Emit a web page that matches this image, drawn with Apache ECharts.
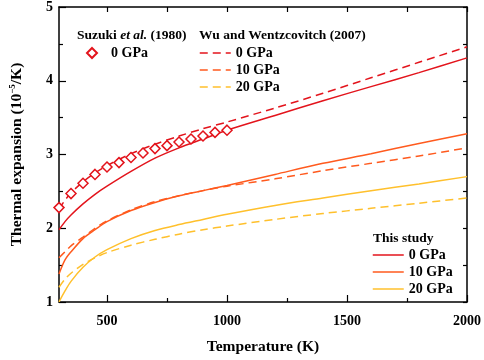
<!DOCTYPE html>
<html>
<head>
<meta charset="utf-8">
<title>Thermal expansion</title>
<script src="https://cdn.jsdelivr.net/npm/echarts@6/dist/echarts.min.js"></script>
<style>
  html, body { margin: 0; padding: 0; background: #fff; }
  #typeCharts { width: 484px; height: 360px; }
</style>
</head>
<body>
<!-- container for the chart -->
<div id="typeCharts"></div>
<script>
// temperature grid of the curves (K)
var temps = [300, 325, 350, 400, 450, 500, 600, 700, 800, 900, 1000, 1200, 1400, 1600, 1800, 2000]

// this study (solid)
var study0 = [1.98, 2.09, 2.18, 2.33, 2.46, 2.57, 2.77, 2.95, 3.09, 3.21, 3.33, 3.53, 3.73, 3.92, 4.11, 4.31]
var study10 = [1.38, 1.57, 1.68, 1.86, 1.98, 2.09, 2.24, 2.35, 2.44, 2.51, 2.58, 2.73, 2.88, 3.01, 3.15, 3.28]
var study20 = [1.0, 1.15, 1.28, 1.47, 1.61, 1.71, 1.86, 1.97, 2.05, 2.12, 2.19, 2.31, 2.41, 2.51, 2.6, 2.7]

// Wu and Wentzcovitch (2007) (dashed)
var wu0 = [2.26, 2.38, 2.48, 2.63, 2.75, 2.85, 3.01, 3.14, 3.25, 3.35, 3.44, 3.63, 3.83, 4.04, 4.25, 4.46]
var wu10 = [1.6, 1.68, 1.76, 1.88, 2.0, 2.1, 2.25, 2.36, 2.44, 2.51, 2.57, 2.67, 2.78, 2.88, 2.98, 3.09]
var wu20 = [1.2, 1.31, 1.39, 1.51, 1.6, 1.67, 1.77, 1.85, 1.92, 1.98, 2.03, 2.12, 2.2, 2.27, 2.34, 2.41]

// Suzuki et al. (1980), 0 GPa
var suzukiT = [300, 350, 400, 450, 500, 550, 600, 650, 700, 750, 800, 850, 900, 950, 1000]
var suzukiA = [2.28, 2.47, 2.61, 2.73, 2.83, 2.89, 2.96, 3.02, 3.08, 3.12, 3.17, 3.21, 3.25, 3.3, 3.33]

// ticks
var xMajorTicks = [500, 1000, 1500, 2000]
var xMinorTicks = [750, 1250, 1750]
var pressures = ['0 GPa', '10 GPa', '20 GPa']

var colors = ['#e3141c', '#ff5a1e', '#ffc02c']
var font = 'Liberation Serif'

function pairs(xs, ys) {
  var out = []
  for (var i = 0; i < xs.length; i++) {
    out.push([xs[i], ys[i]])
  }
  return out
}

function curve(name, ys, color, dashed) {
  return {
    name: name,
    type: 'line',
    data: pairs(temps, ys),
    symbol: 'none',
    smooth: 0.3,
    lineStyle: { color: color, width: 1.5, type: dashed ? [8, 5] : 'solid' },
    itemStyle: { color: color },
    z: dashed ? 3 : 2
  }
}

var labelText = { fontFamily: font, fontWeight: 'bold', fontSize: 14, color: '#000' }
var legendText = { fontFamily: font, fontWeight: 'bold', fontSize: 14, color: '#000', lineHeight: 14 }
function stripName(name) {
  return name.split('|')[1]
}
// legend entry for a line: hide the symbol, keep the line
function lineItem(name) {
  return { name: name, itemStyle: { opacity: 0 } }
}

var charts = echarts.init(document.getElementById('typeCharts'))
var option = {
  animation: false,
  grid: { left: 57, right: 16, top: 7, bottom: 50 },
  xAxis: [
    {
      type: 'value',
      position: 'bottom',
      min: 300,
      max: 2000,
      name: 'Temperature (K)',
      nameLocation: 'middle',
      nameGap: 37,
      nameTextStyle: { fontFamily: font, fontWeight: 'bold', fontSize: 15.5, color: '#000' },
      axisLine: { lineStyle: { color: '#000', width: 1.5 } },
      axisTick: { inside: true, length: 7, lineStyle: { color: '#000', width: 1.2 }, customValues: xMajorTicks },
      axisLabel: Object.assign({ margin: 12, customValues: xMajorTicks, formatter: function (v) { return String(v) } }, labelText),
      splitLine: { show: false }
    },
    {
      // minor ticks on the bottom
      type: 'value',
      position: 'bottom',
      min: 300,
      max: 2000,
      axisLine: { show: false },
      axisTick: { inside: true, length: 4, lineStyle: { color: '#000', width: 1.2 }, customValues: xMinorTicks },
      axisLabel: { show: false },
      splitLine: { show: false }
    },
    {
      type: 'value',
      position: 'top',
      min: 300,
      max: 2000,
      axisLine: { lineStyle: { color: '#000', width: 1.5 } },
      axisTick: { inside: true, length: 5, lineStyle: { color: '#000', width: 1.2 }, customValues: xMajorTicks.concat(xMinorTicks) },
      axisLabel: { show: false },
      splitLine: { show: false }
    }
  ],
  yAxis: [
    {
      type: 'value',
      position: 'left',
      min: 1,
      max: 5,
      interval: 1,
      name: 'Thermal expansion (10{sup|−5}/K)',
      nameLocation: 'middle',
      nameGap: 33,
      nameTextStyle: {
        fontFamily: font, fontWeight: 'bold', fontSize: 15.5, color: '#000', lineHeight: 18,
        rich: { sup: { fontFamily: font, fontWeight: 'bold', fontSize: 9, lineHeight: 18, verticalAlign: 'top', padding: [0, 0, 8, 0] } }
      },
      axisLine: { lineStyle: { color: '#000', width: 1.5 } },
      axisTick: { inside: true, length: 7, lineStyle: { color: '#000', width: 1.2 } },
      minorTick: { show: true, splitNumber: 2, length: 4, lineStyle: { color: '#000', width: 1.2 } },
      axisLabel: Object.assign({ margin: 6 }, labelText),
      splitLine: { show: false }
    },
    {
      type: 'value',
      position: 'right',
      min: 1,
      max: 5,
      interval: 0.5,
      axisLine: { lineStyle: { color: '#000', width: 1.5 } },
      axisTick: { inside: true, length: 4, lineStyle: { color: '#000', width: 1.2 } },
      axisLabel: { show: false },
      splitLine: { show: false }
    }
  ],
  legend: [
    {
      data: [{ name: 'Suzuki|0 GPa', icon: 'diamond' }],
      left: 86,
      top: 46,
      padding: 0,
      itemWidth: 10,
      itemHeight: 10,
      selectedMode: false,
      formatter: stripName,
      textStyle: Object.assign({ padding: [0, 0, 0, 9] }, legendText)
    },
    {
      data: [lineItem('Wu|' + pressures[0]), lineItem('Wu|' + pressures[1]), lineItem('Wu|' + pressures[2])],
      orient: 'vertical',
      left: 199,
      top: 46,
      padding: 0,
      itemWidth: 31,
      itemHeight: 12,
      itemGap: 3,
      selectedMode: false,
      formatter: stripName,
      lineStyle: { width: 1.5 },
      textStyle: legendText
    },
    {
      data: [lineItem('Study|' + pressures[0]), lineItem('Study|' + pressures[1]), lineItem('Study|' + pressures[2])],
      orient: 'vertical',
      left: 372,
      top: 248,
      padding: 0,
      itemWidth: 31,
      itemHeight: 12,
      itemGap: 3,
      selectedMode: false,
      formatter: stripName,
      lineStyle: { width: 1.5 },
      textStyle: legendText
    }
  ],
  graphic: [
    {
      type: 'text',
      left: 77,
      top: 29,
      style: {
        text: 'Suzuki {i|et al.} (1980)',
        fontFamily: font, fontWeight: 'bold', fontSize: 13.5, fill: '#000',
        rich: { i: { fontFamily: font, fontWeight: 'bold', fontStyle: 'italic', fontSize: 13.5, fill: '#000' } }
      }
    },
    {
      type: 'text',
      left: 199,
      top: 29,
      style: { text: 'Wu and Wentzcovitch (2007)', fontFamily: font, fontWeight: 'bold', fontSize: 13.5, fill: '#000' }
    },
    {
      type: 'text',
      left: 373,
      top: 232,
      style: { text: 'This study', fontFamily: font, fontWeight: 'bold', fontSize: 13.5, fill: '#000' }
    }
  ],
  series: [
    curve('Study|' + pressures[0], study0, colors[0], false),
    curve('Study|' + pressures[1], study10, colors[1], false),
    curve('Study|' + pressures[2], study20, colors[2], false),
    curve('Wu|' + pressures[0], wu0, colors[0], true),
    curve('Wu|' + pressures[1], wu10, colors[1], true),
    curve('Wu|' + pressures[2], wu20, colors[2], true),
    {
      name: 'Suzuki|0 GPa',
      type: 'scatter',
      data: pairs(suzukiT, suzukiA),
      symbol: 'diamond',
      symbolSize: 10,
      itemStyle: { color: '#fff', borderColor: colors[0], borderWidth: 1.5, opacity: 1 },
      z: 5
    }
  ]
}
charts.setOption(option)
</script>
</body>
</html>
